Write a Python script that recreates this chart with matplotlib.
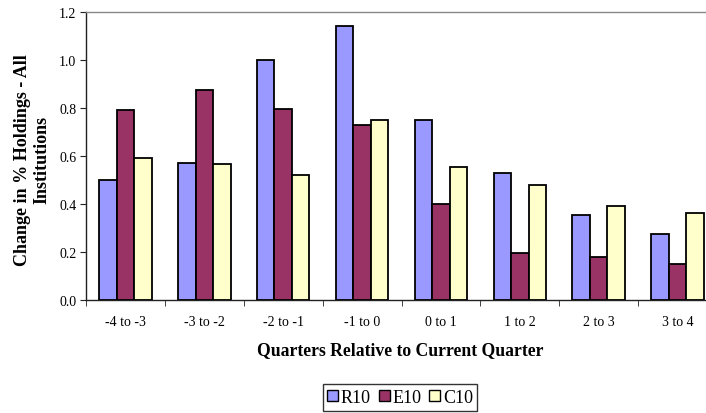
import matplotlib
matplotlib.use("Agg")
import matplotlib.pyplot as plt
import numpy as np
from matplotlib.patches import Patch

categories = ["-4 to -3", "-3 to -2", "-2 to -1", "-1 to 0", "0 to 1", "1 to 2", "2 to 3", "3 to 4"]
r10 = [0.50, 0.57, 1.00, 1.14, 0.75, 0.53, 0.355, 0.275]
e10 = [0.79, 0.875, 0.795, 0.73, 0.40, 0.195, 0.18, 0.15]
c10 = [0.59, 0.565, 0.52, 0.75, 0.555, 0.48, 0.39, 0.36]
series_names = ["R10", "E10", "C10"]
colors = ["#9999FF", "#993366", "#FFFFCC"]

plt.rcParams["font.family"] = ["Liberation Serif", "DejaVu Serif"]

fig = plt.figure(figsize=(7.06, 4.14), dpi=100)
ax = fig.add_axes([86 / 706, 1 - 300.7 / 414, 631 / 706, 288 / 414])

x = np.arange(len(categories))
w = 1 / 4.5
for i, (vals, col) in enumerate(zip([r10, e10, c10], colors)):
    ax.bar(x + (i - 1) * w, vals, width=w, color=col, edgecolor="black",
           linewidth=1.3, zorder=3)

ax.set_xlim(-0.5, len(categories) - 0.5)
ax.set_ylim(0, 1.2)
yt = np.arange(0, 1.21, 0.2)
ax.set_yticks(yt)
ax.set_yticklabels([f"{v:.1f}" for v in yt], fontsize=10)
ax.set_xticks(x)
ax.set_xticklabels(categories, fontsize=10)
ax.set_xticks(np.arange(-0.5, len(categories), 1), minor=True)
ax.tick_params(axis="x", which="major", length=0, pad=11)
ax.tick_params(axis="x", which="minor", length=4, direction="out", color="#222222")
ax.tick_params(axis="y", length=4, direction="out", color="#222222", pad=3)

for s in ["left", "bottom"]:
    ax.spines[s].set_color("#222222")
    ax.spines[s].set_linewidth(1.0)
ax.spines["top"].set_color("#888888")
ax.spines["top"].set_linewidth(1.0)
ax.spines["right"].set_color("#888888")

fig.text(32 / 706, 1 - 160 / 414, "Change in % Holdings - All\nInstitutions",
         rotation=90, ha="center", va="center", fontsize=13, fontweight="bold",
         multialignment="center", linespacing=1.15)
fig.text(400 / 706, 1 - 351 / 414, "Quarters Relative to Current Quarter",
         ha="center", va="center", fontsize=12.7, fontweight="bold")

handles = [Patch(facecolor=c, edgecolor="black", linewidth=1.0) for c in colors]
leg = fig.legend(handles, series_names, loc="center", bbox_to_anchor=(400 / 706, 1 - 398.5 / 414),
                 ncol=3, fontsize=13, frameon=True, fancybox=False, edgecolor="black",
                 handlelength=0.6, handleheight=0.6, handletextpad=0.15, columnspacing=0.45,
                 borderpad=0.25, borderaxespad=0)
leg.get_frame().set_linewidth(1.0)

fig.savefig("out.png", dpi=100)
